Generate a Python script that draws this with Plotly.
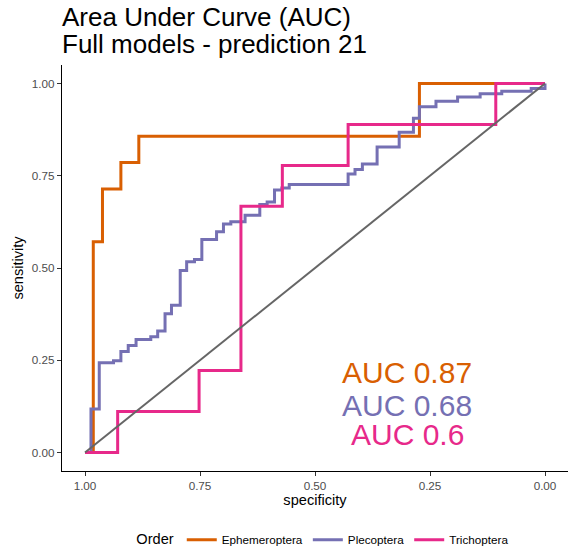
import plotly.graph_objects as go

# ---- data ----
orders = ["Ephemeroptera", "Plecoptera", "Trichoptera"]
colors = ["#D95F02", "#7570B3", "#E7298A"]

eph_spec = [1.0, 0.982, 0.962, 0.922, 0.883, 0.273, 0.0]
eph_sens = [0.0, 0.571, 0.714, 0.786, 0.857, 1.0, 1.0]

ple_spec = [1.0, 0.987, 0.969, 0.938, 0.922, 0.906, 0.889, 0.857, 0.842, 0.826,
            0.812, 0.793, 0.779, 0.762, 0.746, 0.714, 0.699, 0.683, 0.652, 0.620,
            0.604, 0.588, 0.572, 0.556, 0.428, 0.413, 0.397, 0.365, 0.317, 0.286,
            0.273, 0.237, 0.190, 0.141, 0.094, 0.030, 0.0]
ple_sens = [0.0, 0.118, 0.243, 0.249, 0.274, 0.290, 0.306, 0.314, 0.329, 0.376,
            0.399, 0.493, 0.517, 0.523, 0.577, 0.598, 0.619, 0.625, 0.643, 0.672,
            0.679, 0.711, 0.717, 0.726, 0.755, 0.767, 0.782, 0.828, 0.868, 0.906,
            0.937, 0.952, 0.963, 0.972, 0.979, 0.986, 1.0]

tri_spec = [1.0, 0.929, 0.752, 0.661, 0.571, 0.428, 0.107, 0.0]
tri_sens = [0.0, 0.111, 0.222, 0.667, 0.778, 0.889, 1.0, 1.0]

diag_spec = [1.0, 0.0]
diag_sens = [0.0, 1.0]

auc_labels = ["AUC 0.87", "AUC 0.68", "AUC 0.6"]
auc_x = [0.30, 0.30, 0.30]
auc_y = [0.217, 0.127, 0.049]

x_ticks = [1.0, 0.75, 0.5, 0.25, 0.0]
x_ticklabels = ["1.00", "0.75", "0.50", "0.25", "0.00"]
y_ticks = [0.0, 0.25, 0.5, 0.75, 1.0]
y_ticklabels = ["0.00", "0.25", "0.50", "0.75", "1.00"]

FONT = "Liberation Sans, Arial, sans-serif"

fig = go.Figure()
series = [(eph_spec, eph_sens), (ple_spec, ple_sens), (tri_spec, tri_sens)]
for name, col, (sx, sy) in zip(orders, colors, series):
    fig.add_trace(go.Scatter(x=sx, y=sy, mode="lines", name=name,
                             line=dict(color=col, width=3, shape="hv")))
fig.add_trace(go.Scatter(x=diag_spec, y=diag_sens, mode="lines", showlegend=False,
                         line=dict(color="#666666", width=2), hoverinfo="skip"))

for txt, col, ax, ay in zip(auc_labels, colors, auc_x, auc_y):
    fig.add_annotation(x=ax, y=ay, xref="x", yref="y", text=txt, showarrow=False,
                       font=dict(family=FONT, size=30, color=col),
                       xanchor="center", yanchor="middle")

fig.add_annotation(x=-0.004, y=1.118, xref="paper", yref="paper",
                   text="Area Under Curve (AUC)", showarrow=False,
                   xanchor="left", yanchor="middle",
                   font=dict(family=FONT, size=26, color="black"))
fig.add_annotation(x=-0.004, y=1.052, xref="paper", yref="paper",
                   text="Full models - prediction 21", showarrow=False,
                   xanchor="left", yanchor="middle",
                   font=dict(family=FONT, size=26, color="black"))

axis_common = dict(showgrid=False, zeroline=False, showline=True, linecolor="black",
                   linewidth=1.2, ticks="outside", ticklen=4, tickcolor="#333333",
                   tickwidth=1.2, automargin=False,
                   tickfont=dict(family=FONT, size=11.7, color="#4D4D4D"))

fig.update_xaxes(range=[1.05, -0.05], tickvals=x_ticks, ticktext=x_ticklabels,
                 title=dict(text="specificity", font=dict(family=FONT, size=14.6, color="black"),
                            standoff=2),
                 **axis_common)
fig.update_yaxes(range=[-0.05, 1.05], tickvals=y_ticks, ticktext=y_ticklabels,
                 title=dict(text="sensitivity", font=dict(family=FONT, size=14.6, color="black"),
                            standoff=4),
                 **axis_common)

fig.update_layout(
    width=572, height=552,
    margin=dict(l=62, r=4, t=65, b=81, autoexpand=False),
    plot_bgcolor="white", paper_bgcolor="white",
    font=dict(family=FONT),
    legend=dict(orientation="h", xref="container", yref="container",
                x=0.567, xanchor="center", y=0.022, yanchor="middle",
                title=dict(text="Order", side="left", font=dict(family=FONT, size=14.6, color="black")),
                font=dict(family=FONT, size=11.7, color="black"),
                itemwidth=30, tracegroupgap=0, bgcolor="rgba(0,0,0,0)"),
)

fig.write_html("out.html", config={"displayModeBar": False},
               post_script="document.body.style.margin='0px';document.body.style.overflow='hidden';")
